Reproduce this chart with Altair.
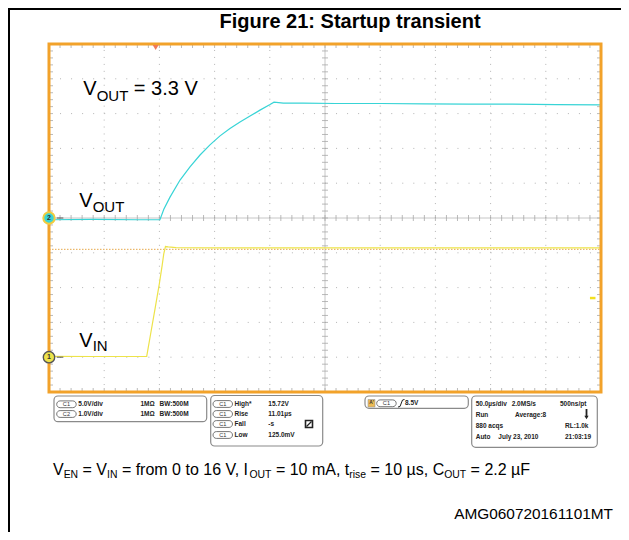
import altair as alt
import pandas as pd

# ---------------- data ----------------
# time in microseconds from the left edge of the screen (50 us/div, 10 div)
vout_t = [0, 40, 80, 100.5, 104, 109.6, 118.7, 127.7, 136.8, 145.8, 154.9, 163.9, 173.0,
          182.1, 191.1, 200.2, 203.8, 212.3, 230, 260, 300, 340, 380, 420, 460, 500]
vout_v = [-0.05, -0.04, -0.05, -0.05, 0.25, 0.60, 1.09, 1.47, 1.81, 2.10, 2.36, 2.57, 2.76,
          2.93, 3.10, 3.26, 3.33, 3.30, 3.30, 3.29, 3.29, 3.28, 3.27, 3.27, 3.26, 3.25]
vin_t = [0, 40, 88.5, 92, 96, 100, 102.5, 104, 105.5, 108, 115, 150, 250, 350, 450, 500]
vin_v = [0.12, 0.10, 0.12, 3.3, 6.9, 10.6, 13.2, 14.9, 15.9, 15.85, 15.75, 15.72,
         15.72, 15.70, 15.72, 15.72]

time_per_div = 50.0
ch1_volts_per_div, ch1_ground_div = 5.0, 1.0   # VIN (yellow)
ch2_volts_per_div, ch2_ground_div = 1.0, 5.0   # VOUT (cyan)
trigger_time = 96.6
trigger_level = 8.5
cursor_level_ch1 = 15.5

# ---------------- layout ----------------
W, H = 613, 524
PAGE = 8
FX0, FY0, DX, DY = 49.0, 44.0, 55.2, 34.8

xs = alt.Scale(domain=[(PAGE - FX0) / DX, (PAGE + W - FX0) / DX], nice=False, zero=False)
ys = alt.Scale(domain=[(FY0 + 10 * DY - (PAGE + H)) / DY, (FY0 + 10 * DY - PAGE) / DY], nice=False, zero=False)
pxs = alt.Scale(domain=[PAGE, PAGE + W], nice=False, zero=False)
pys = alt.Scale(domain=[PAGE + H, PAGE], nice=False, zero=False)

CYAN = "#38D4D6"
YELLOW = "#EDE34A"
ORANGE = "#F2A22A"
GRID = "#B4B4B4"
FONT = "Liberation Sans"


def X(f="x"):
    return alt.X(f"{f}:Q", scale=xs, axis=None)


def Y(f="y"):
    return alt.Y(f"{f}:Q", scale=ys, axis=None)


def PX(f="x"):
    return alt.X(f"{f}:Q", scale=pxs, axis=None)


def PY(f="y"):
    return alt.Y(f"{f}:Q", scale=pys, axis=None)


# ---------------- scope layers (division units) ----------------
vout_df = pd.DataFrame({"x": [t / time_per_div for t in vout_t],
                        "y": [ch2_ground_div + v / ch2_volts_per_div for v in vout_v]})
vin_df = pd.DataFrame({"x": [t / time_per_div for t in vin_t],
                       "y": [ch1_ground_div + v / ch1_volts_per_div for v in vin_v]})

major = [1, 2, 3, 4, 6, 7, 8, 9]
vgrid = alt.Chart(pd.DataFrame({"x": major, "y": 0, "y2": 10})).mark_rule(
    color=GRID, strokeWidth=1, strokeDash=[1, DY / 5 - 1]).encode(x=X(), y=Y(), y2="y2")
hgrid = alt.Chart(pd.DataFrame({"y": major, "x": 0, "x2": 10})).mark_rule(
    color=GRID, strokeWidth=1, strokeDash=[1, DX / 5 - 1]).encode(y=Y(), x=X(), x2="x2")
center = alt.Chart(pd.DataFrame({"x": [5, 0], "x2": [5, 10], "y": [0, 5], "y2": [10, 5]})).mark_rule(
    color="#B8B8B8", strokeWidth=0.8).encode(x=X(), x2="x2", y=Y(), y2="y2")

minor = [i / 5 for i in range(1, 50)]
tick_rows = []
hx = 3.0 / DX
hy = 3.0 / DY
for p in minor:
    tick_rows.append(dict(x=p, x2=p, y=5 - hy, y2=5 + hy))          # on horizontal centre line
    tick_rows.append(dict(x=5 - hx, x2=5 + hx, y=p, y2=p))          # on vertical centre line
    tick_rows.append(dict(x=p, x2=p, y=10, y2=10 - 4 / DY))          # top edge
    tick_rows.append(dict(x=p, x2=p, y=0, y2=4 / DY))                # bottom edge
    tick_rows.append(dict(x=0, x2=4 / DX, y=p, y2=p))                # left edge
    tick_rows.append(dict(x=10, x2=10 - 4 / DX, y=p, y2=p))          # right edge
ticks = alt.Chart(pd.DataFrame(tick_rows)).mark_rule(color="#A8A8A8", strokeWidth=0.8).encode(
    x=X(), x2="x2", y=Y(), y2="y2")

cursor = alt.Chart(pd.DataFrame({"y": [ch1_ground_div + cursor_level_ch1 / ch1_volts_per_div],
                                 "x": [0], "x2": [10]})).mark_rule(
    color="#E6A84A", strokeWidth=1, strokeDash=[1.5, 1.5]).encode(y=Y(), x=X(), x2="x2")

vin_line = alt.Chart(vin_df).mark_line(color=YELLOW, strokeWidth=1.2).encode(x=X(), y=Y())
vout_line = alt.Chart(vout_df).mark_line(color=CYAN, strokeWidth=1.2).encode(x=X(), y=Y())

frame = alt.Chart(pd.DataFrame({"x": [0], "x2": [10], "y": [0], "y2": [10]})).mark_rect(
    fillOpacity=0, stroke=ORANGE, strokeWidth=3).encode(x=X(), x2="x2", y=Y(), y2="y2")

trig_lvl_y = ch1_ground_div + trigger_level / ch1_volts_per_div
trig_lvl = alt.Chart(pd.DataFrame({"y": [trig_lvl_y], "x": [9.80], "x2": [9.90]})).mark_rule(
    color="#F2E020", strokeWidth=2.5).encode(y=Y(), x=X(), x2="x2")
trig_pos = alt.Chart(pd.DataFrame({"x": [trigger_time / time_per_div], "y": [10 - 0.1]})).mark_point(
    shape="triangle-down", filled=True, size=35, color="#F07A5A", opacity=1).encode(x=X(), y=Y())

arrows = alt.Chart(pd.DataFrame({"x": [0.14, 0.14], "x2": [0.26, 0.26],
                                 "y": [ch2_ground_div, ch1_ground_div]})).mark_rule(
    color="#555555", strokeWidth=1).encode(x=X(), x2="x2", y=Y())
m2 = alt.Chart(pd.DataFrame({"x": [0], "y": [ch2_ground_div]})).mark_point(
    shape="circle", filled=True, size=130, fill=CYAN, stroke="#F0CC40", strokeWidth=2, opacity=1).encode(x=X(), y=Y())
m1 = alt.Chart(pd.DataFrame({"x": [0], "y": [ch1_ground_div]})).mark_point(
    shape="circle", filled=True, size=130, fill=YELLOW, stroke="#555555", strokeWidth=1.4, opacity=1).encode(x=X(), y=Y())
mtext = alt.Chart(pd.DataFrame({"x": [0, 0], "y": [ch2_ground_div, ch1_ground_div], "t": ["2", "1"]})).mark_text(
    fontSize=7, font=FONT, fontWeight="bold", color="#333333", baseline="middle").encode(x=X(), y=Y(), text="t:N")

scope = alt.layer(vgrid, hgrid, center, ticks, cursor, vin_line, vout_line, frame,
                  trig_lvl, trig_pos, arrows, m2, m1, mtext)

# ---------------- annotations (page pixels) ----------------
CW = {" ": 278, "=": 584, ",": 278, ".": 278, ":": 278, "µ": 576, "A": 667, "B": 667, "C": 722,
      "E": 667, "F": 611, "I": 278, "M": 833, "N": 722, "O": 778, "T": 611, "U": 722, "V": 667,
      "a": 556, "e": 556, "f": 278, "i": 222, "m": 833, "n": 556, "o": 556, "r": 333, "s": 500, "t": 278}


def tw(s, fs):
    return sum(CW.get(c, 556) for c in s) * fs / 1000.0


def rich(pieces, x0, base, fs, sub_ratio, sub_drop):
    rows, x = [], x0
    for txt, sub in pieces:
        f = fs * sub_ratio if sub else fs
        lead = len(txt) - len(txt.lstrip(" "))
        x += tw(" " * lead, f)
        body = txt.lstrip(" ")
        rows.append(dict(x=x, y=base + (sub_drop if sub else 0), text=body, fs=f))
        x += tw(body, f)
    return rows


label_rows = []
label_rows += rich([("V", 0), ("OUT", 1), (" = 3.3 V", 0)], 83.3, 95, 20, 0.75, 6)
label_rows += rich([("V", 0), ("OUT", 1)], 79.3, 206.5, 20, 0.75, 5)
label_rows += rich([("V", 0), ("IN", 1)], 79.3, 346.5, 20, 0.75, 4)
caption_rows = rich([("V", 0), ("EN", 1), (" = V", 0), ("IN", 1), (" = from 0 to 16 V, I", 0), ("OUT", 1),
                     (" = 10 mA, t", 0), ("rise", 1), (" = 10 µs, C", 0), ("OUT", 1), (" = 2.2 µF", 0)],
                    53, 475, 16, 0.65, 3)

rich_text = alt.Chart(pd.DataFrame(label_rows + caption_rows)).mark_text(
    align="left", baseline="alphabetic", font=FONT, color="#000000").encode(
    x=PX(), y=PY(), text="text:N", size=alt.Size("fs:Q", scale=None, legend=None))

title = alt.Chart(pd.DataFrame({"x": [350], "y": [28], "t": ["Figure 21: Startup transient"]})).mark_text(
    align="center", baseline="alphabetic", font=FONT, fontSize=20, fontWeight="bold", color="#000000").encode(
    x=PX(), y=PY(), text="t:N")
figid = alt.Chart(pd.DataFrame({"x": [613], "y": [519], "t": ["AMG060720161101MT"]})).mark_text(
    align="right", baseline="alphabetic", font=FONT, fontSize=15.4, color="#000000").encode(
    x=PX(), y=PY(), text="t:N")

borders = alt.Chart(pd.DataFrame({"x": [PAGE, 9.0], "x2": [PAGE + W, 9.0], "y": [9.0, PAGE], "y2": [9.0, PAGE + H]})).mark_rule(
    color="#000000", strokeWidth=2).encode(x=PX(), x2="x2", y=PY(), y2="y2")

# info boxes of the scope screen
boxes = pd.DataFrame({"x": [54, 210.7, 365, 471.7], "x2": [206.7, 322.7, 468.3, 597.3],
                      "y": [396, 395.5, 396, 396], "y2": [421.7, 446, 408.3, 447.3]})
box_layer = alt.Chart(boxes).mark_rect(fill="white", stroke="#8A8A8A", strokeWidth=1.2, cornerRadius=4).encode(
    x=PX(), x2="x2", y=PY(), y2="y2")

pill_x = [56.7, 56.7, 213, 213, 213, 213, 376.7]
pill_y = [404.3, 414, 404, 414, 424, 435, 403.3]
pill_t = ["C1", "C2", "C1", "C1", "C1", "C1", "C1"]
pills = pd.DataFrame({"x": pill_x, "x2": [v + 19.5 for v in pill_x],
                      "y": [v - 3.4 for v in pill_y], "y2": [v + 3.4 for v in pill_y],
                      "cx": [v + 9.75 for v in pill_x], "cy": pill_y, "t": pill_t})
pill_layer = alt.Chart(pills).mark_rect(fill="white", stroke="#666666", strokeWidth=0.9, cornerRadius=3.4).encode(
    x=PX(), x2="x2", y=PY(), y2="y2")
pill_text = alt.Chart(pills).mark_text(fontSize=5.6, font=FONT, color="#333333", baseline="middle").encode(
    x=PX("cx"), y=PY("cy"), text="t:N")

info_x = [78.3, 140.5, 159.5, 78.3, 140.5, 159.5,
          234.5, 268.3, 234.5, 268.3, 234.5, 268.3, 234.5, 268.3,
          405,
          475.7, 511.7, 560, 475.7, 515, 475.7, 565, 475.7, 498.3, 565]
info_y = [404.3, 404.3, 404.3, 414, 414, 414,
          404, 404, 414, 414, 424, 424, 435, 435,
          403.3,
          404.3, 404.3, 404.3, 415.3, 415.3, 426, 426, 436.7, 436.7, 436.7]
info_t = ["5.0V/div", "1MΩ", "BW:500M", "1.0V/div", "1MΩ", "BW:500M",
          "High*", "15.72V", "Rise", "11.01µs", "Fall", "-s", "Low", "125.0mV",
          "8.5V",
          "50.0µs/div", "2.0MS/s", "500ns/pt", "Run", "Average:8", "880 acqs", "RL:1.0k",
          "Auto", "July 23, 2010", "21:03:19"]
info_layer = alt.Chart(pd.DataFrame({"x": info_x, "y": info_y, "t": info_t})).mark_text(
    align="left", baseline="middle", font=FONT, fontSize=6.5, fontWeight="bold", color="#222222").encode(
    x=PX(), y=PY(), text="t:N")

# small icons in the info boxes
abox = alt.Chart(pd.DataFrame({"x": [368], "x2": [375], "y": [399.5], "y2": [407]})).mark_rect(
    fill="#EDBB55", stroke="#999999", strokeWidth=0.6).encode(x=PX(), x2="x2", y=PY(), y2="y2")
atext = alt.Chart(pd.DataFrame({"x": [371.5], "y": [403.3], "t": ["A'"]})).mark_text(
    fontSize=4.8, font=FONT, fontWeight="bold", color="#333333", baseline="middle").encode(x=PX(), y=PY(), text="t:N")
slope = alt.Chart(pd.DataFrame({"x": [398, 400, 402.5, 404.5], "y": [407, 406.5, 400, 399.5], "o": [0, 1, 2, 3]})).mark_line(
    color="#222222", strokeWidth=1).encode(x=PX(), y=PY(), order="o:O")
icon_sq = alt.Chart(pd.DataFrame({"x": [305.5], "x2": [312.5], "y": [420.5], "y2": [427.5]})).mark_rect(
    fill="white", stroke="#222222", strokeWidth=1.6).encode(x=PX(), x2="x2", y=PY(), y2="y2")
icon_diag = alt.Chart(pd.DataFrame({"x": [306.5], "x2": [311.5], "y": [426.5], "y2": [421.5]})).mark_rule(
    color="#222222", strokeWidth=1.3).encode(x=PX(), x2="x2", y=PY(), y2="y2")
down_shaft = alt.Chart(pd.DataFrame({"x": [586.5], "y": [409], "y2": [416]})).mark_rule(
    color="#222222", strokeWidth=1.8).encode(x=PX(), y=PY(), y2="y2")
down_head = alt.Chart(pd.DataFrame({"x": [586.5], "y": [417.5]})).mark_point(
    shape="triangle-down", filled=True, size=18, color="#222222", opacity=1).encode(x=PX(), y=PY())

annot = alt.layer(borders, title, rich_text, figid, box_layer, pill_layer, pill_text, info_layer,
                  abox, atext, slope, icon_sq, icon_diag, down_shaft, down_head)

chart = alt.layer(scope, annot).resolve_scale(x="independent", y="independent").properties(
    width=W, height=H, padding=0, autosize=alt.AutoSizeParams(type="none"), background="white"
).configure_view(stroke=None)

chart.save("out.html", embed_options={"renderer": "svg", "actions": False})
